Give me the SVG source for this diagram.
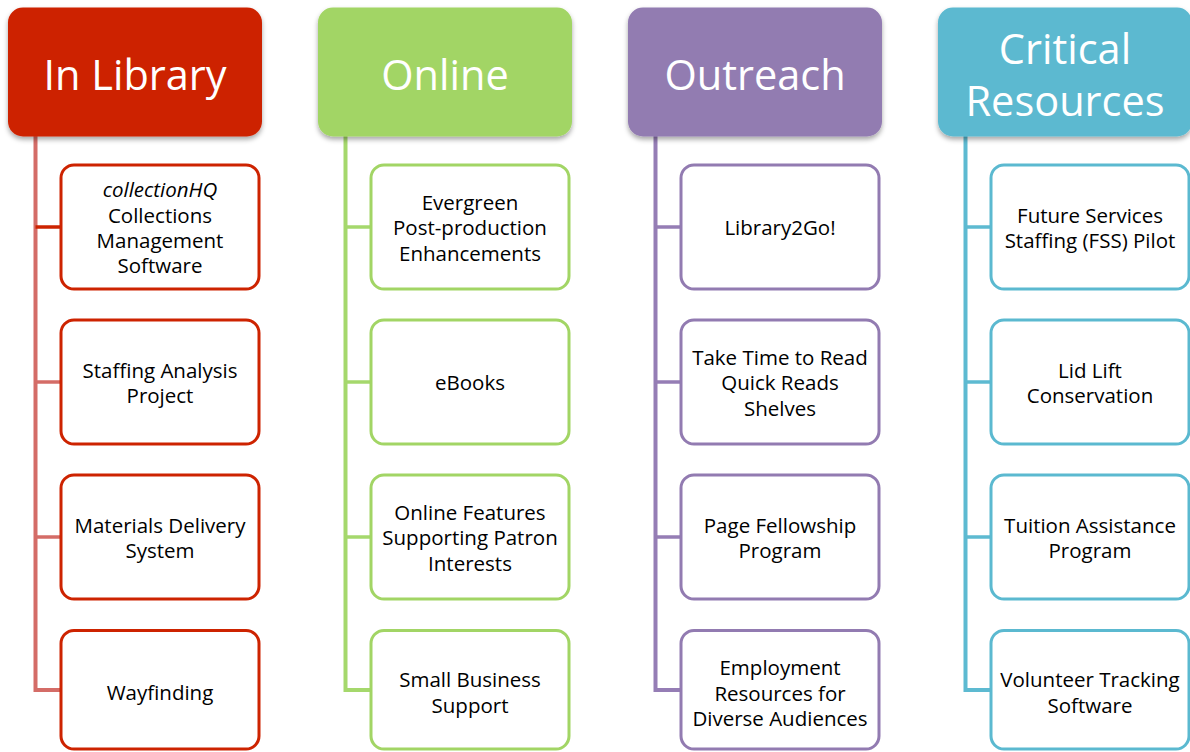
<svg xmlns="http://www.w3.org/2000/svg" width="1190" height="752" viewBox="0 0 1190 752">
  <defs>
    <filter id="drop" x="-10%" y="-10%" width="120%" height="130%">
      <feDropShadow dx="0" dy="3" stdDeviation="2.5" flood-color="#000" flood-opacity="0.35"/>
    </filter>
    <style>
      .head { stroke: none; filter: url(#drop); }
      .head-text { font-family: "Open Sans", "Noto Sans", sans-serif; font-size: 41.5px; fill: #ffffff; text-anchor: middle; }
      .item { fill: #ffffff; stroke-width: 3; }
      .item-text { font-family: "Open Sans", "Noto Sans", sans-serif; font-size: 20.5px; fill: #000000; text-anchor: middle; }
      .trunk { fill: none; stroke-width: 4; stroke-linejoin: miter; }
      .branch { fill: none; stroke-width: 3.5; }
      .red { fill: #cd2300; }
      .green { fill: #a2d565; }
      .purple { fill: #927bb1; }
      .blue { fill: #5bb9d0; }
      .red-s { stroke: #cd2300; }
      .green-s { stroke: #a2d565; }
      .purple-s { stroke: #927bb1; }
      .blue-s { stroke: #5bb9d0; }
      .red-l { stroke: #d46c67; }
      .green-l { stroke: #a5d86c; }
      .purple-l { stroke: #957db5; }
      .blue-l { stroke: #5dbad1; }
    </style>
  </defs>

  <!-- connectors: one trunk per column, plus branches to each item -->
  <g id="connectors">
    <path class="trunk red-l" d="M35.5 136 V690 H61"/>
    <path class="branch red-s" d="M35.5 227 H61"/>
    <path class="branch red-l" d="M35.5 382 H61"/>
    <path class="branch red-l" d="M35.5 537 H61"/>

    <path class="trunk green-l" d="M345.5 136 V690 H371"/>
    <path class="branch green-l" d="M345.5 227 H371"/>
    <path class="branch green-l" d="M345.5 382 H371"/>
    <path class="branch green-l" d="M345.5 537 H371"/>

    <path class="trunk purple-l" d="M655.5 136 V690 H681"/>
    <path class="branch purple-l" d="M655.5 227 H681"/>
    <path class="branch purple-l" d="M655.5 382 H681"/>
    <path class="branch purple-l" d="M655.5 537 H681"/>

    <path class="trunk blue-l" d="M965.5 136 V690 H991"/>
    <path class="branch blue-l" d="M965.5 227 H991"/>
    <path class="branch blue-l" d="M965.5 382 H991"/>
    <path class="branch blue-l" d="M965.5 537 H991"/>
  </g>

  <!-- column headers -->
  <g id="head-in-library">
    <rect class="head red" x="8" y="7.5" width="254" height="129" rx="15"/>
    <text class="head-text" x="135" y="89.5">In Library</text>
  </g>
  <g id="head-online">
    <rect class="head green" x="318" y="7.5" width="254" height="129" rx="15"/>
    <text class="head-text" x="445" y="89.5">Online</text>
  </g>
  <g id="head-outreach">
    <rect class="head purple" x="628" y="7.5" width="254" height="129" rx="15"/>
    <text class="head-text" x="755" y="89.5">Outreach</text>
  </g>
  <g id="head-critical">
    <rect class="head blue" x="938" y="7.5" width="254" height="129" rx="15"/>
    <text class="head-text" x="1065" y="64">Critical</text>
    <text class="head-text" x="1065" y="115.5">Resources</text>
  </g>

  <!-- In Library items -->
  <g id="item-collectionhq">
    <rect class="item red-s" x="61" y="165" width="198" height="124" rx="13"/>
    <text class="item-text" x="160" y="197.3" font-style="italic">collectionHQ</text>
    <text class="item-text" x="160" y="222.6">Collections</text>
    <text class="item-text" x="160" y="247.9">Management</text>
    <text class="item-text" x="160" y="273.2">Software</text>
  </g>
  <g id="item-staffing-analysis">
    <rect class="item red-s" x="61" y="320" width="198" height="124" rx="13"/>
    <text class="item-text" x="160" y="377.6">Staffing Analysis</text>
    <text class="item-text" x="160" y="402.9">Project</text>
  </g>
  <g id="item-materials-delivery">
    <rect class="item red-s" x="61" y="475" width="198" height="124" rx="13"/>
    <text class="item-text" x="160" y="532.6">Materials Delivery</text>
    <text class="item-text" x="160" y="557.9">System</text>
  </g>
  <g id="item-wayfinding">
    <rect class="item red-s" x="61" y="630.5" width="198" height="118.5" rx="13"/>
    <text class="item-text" x="160" y="700">Wayfinding</text>
  </g>

  <!-- Online items -->
  <g id="item-evergreen">
    <rect class="item green-s" x="371" y="165" width="198" height="124" rx="13"/>
    <text class="item-text" x="470" y="209.9">Evergreen</text>
    <text class="item-text" x="470" y="235.2">Post-production</text>
    <text class="item-text" x="470" y="260.5">Enhancements</text>
  </g>
  <g id="item-ebooks">
    <rect class="item green-s" x="371" y="320" width="198" height="124" rx="13"/>
    <text class="item-text" x="470" y="390.2">eBooks</text>
  </g>
  <g id="item-online-features">
    <rect class="item green-s" x="371" y="475" width="198" height="124" rx="13"/>
    <text class="item-text" x="470" y="519.9">Online Features</text>
    <text class="item-text" x="470" y="545.2">Supporting Patron</text>
    <text class="item-text" x="470" y="570.5">Interests</text>
  </g>
  <g id="item-small-business">
    <rect class="item green-s" x="371" y="630.5" width="198" height="118.5" rx="13"/>
    <text class="item-text" x="470" y="687.4">Small Business</text>
    <text class="item-text" x="470" y="712.7">Support</text>
  </g>

  <!-- Outreach items -->
  <g id="item-library2go">
    <rect class="item purple-s" x="681" y="165" width="198" height="124" rx="13"/>
    <text class="item-text" x="780" y="235.2">Library2Go!</text>
  </g>
  <g id="item-take-time">
    <rect class="item purple-s" x="681" y="320" width="198" height="124" rx="13"/>
    <text class="item-text" x="780" y="364.9">Take Time to Read</text>
    <text class="item-text" x="780" y="390.2">Quick Reads</text>
    <text class="item-text" x="780" y="415.5">Shelves</text>
  </g>
  <g id="item-page-fellowship">
    <rect class="item purple-s" x="681" y="475" width="198" height="124" rx="13"/>
    <text class="item-text" x="780" y="532.6">Page Fellowship</text>
    <text class="item-text" x="780" y="557.9">Program</text>
  </g>
  <g id="item-employment">
    <rect class="item purple-s" x="681" y="630.5" width="198" height="118.5" rx="13"/>
    <text class="item-text" x="780" y="675.2">Employment</text>
    <text class="item-text" x="780" y="700.5">Resources for</text>
    <text class="item-text" x="780" y="725.8">Diverse Audiences</text>
  </g>

  <!-- Critical Resources items -->
  <g id="item-fss-pilot">
    <rect class="item blue-s" x="991" y="165" width="198" height="124" rx="13"/>
    <text class="item-text" x="1090" y="222.6">Future Services</text>
    <text class="item-text" x="1090" y="247.9">Staffing (FSS) Pilot</text>
  </g>
  <g id="item-lid-lift">
    <rect class="item blue-s" x="991" y="320" width="198" height="124" rx="13"/>
    <text class="item-text" x="1090" y="377.6">Lid Lift</text>
    <text class="item-text" x="1090" y="402.9">Conservation</text>
  </g>
  <g id="item-tuition">
    <rect class="item blue-s" x="991" y="475" width="198" height="124" rx="13"/>
    <text class="item-text" x="1090" y="532.6">Tuition Assistance</text>
    <text class="item-text" x="1090" y="557.9">Program</text>
  </g>
  <g id="item-volunteer">
    <rect class="item blue-s" x="991" y="630.5" width="198" height="118.5" rx="13"/>
    <text class="item-text" x="1090" y="687.4">Volunteer Tracking</text>
    <text class="item-text" x="1090" y="712.7">Software</text>
  </g>
</svg>
